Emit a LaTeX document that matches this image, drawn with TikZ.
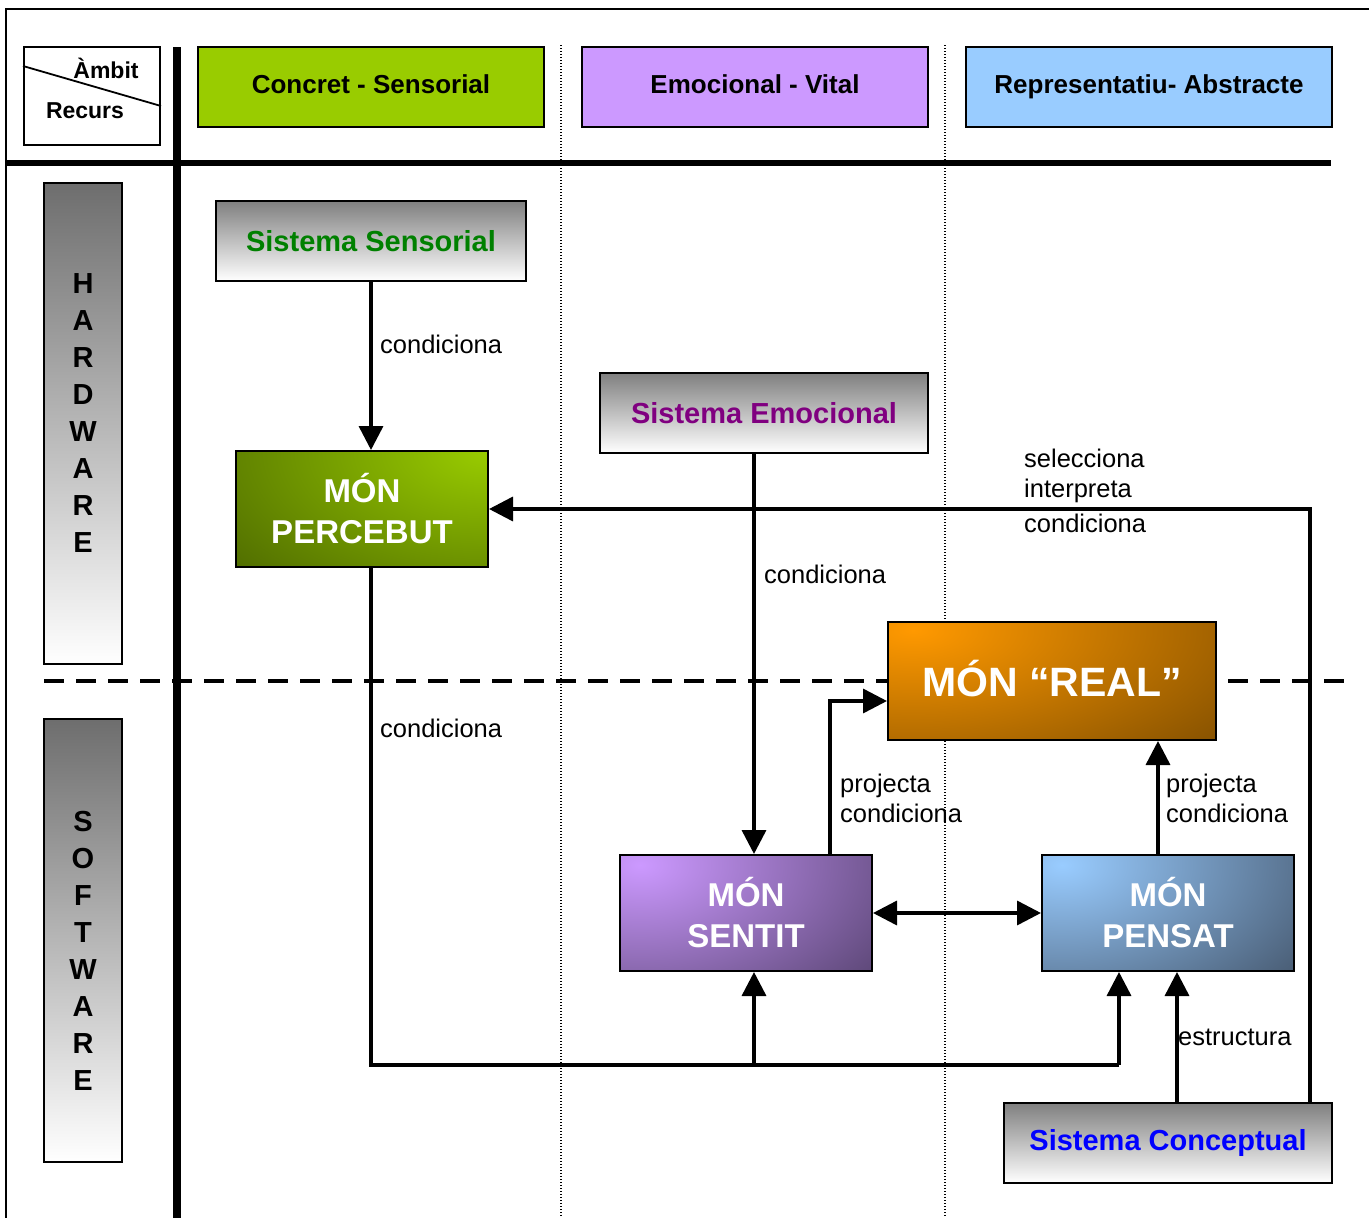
\documentclass[tikz,border=0pt]{standalone}
\usepackage{fontspec}
\setmainfont{Liberation Sans}
\usetikzlibrary{arrows.meta,calc}

\definecolor{hdrgreen}{HTML}{99CC00}
\definecolor{hdrviolet}{HTML}{CC99FF}
\definecolor{hdrblue}{HTML}{99CCFF}
\definecolor{percdark}{HTML}{4A6500}
\definecolor{percbright}{HTML}{99CC00}
\definecolor{realbright}{HTML}{FF9900}
\definecolor{realdark}{HTML}{744700}
\definecolor{sentlight}{HTML}{CC99FF}
\definecolor{sentdark}{HTML}{5F497A}
\definecolor{penslight}{HTML}{99CCFF}
\definecolor{pensdark}{HTML}{4A5E76}
\definecolor{sensgreen}{HTML}{008000}
\definecolor{emopurple}{HTML}{800080}
\definecolor{concblue}{HTML}{0000FF}

\tikzset{
  outerline/.style={line width=2pt},
  hdrbox/.style={draw, line width=2pt, minimum height=80pt, inner sep=0pt,
    text height=19pt, text depth=6pt,
    font=\bfseries\fontsize{26}{30}\selectfont},
  sysbox/.style={draw, line width=2pt, minimum height=80pt, inner sep=0pt,
    top color=black!50, bottom color=white,
    font=\bfseries\fontsize{29}{34}\selectfont},
  sidebox/.style={draw, line width=2pt, minimum width=78pt, inner sep=0pt,
    top color=black!57, bottom color=white},
  sideletters/.style={font=\bfseries\fontsize{29}{37}\selectfont,
    align=center, inner sep=0pt},
  monbox/.style={draw, line width=2pt, minimum width=252pt, minimum height=116pt,
    inner sep=0pt, text=white, align=center,
    font=\bfseries\fontsize{33}{41}\selectfont},
  % light spot #1 fading into #2, centred at #3 with radii #4, #5
  glow/.style n args={5}{path picture={
    \fill[#2] (path picture bounding box.south west) rectangle
              (path picture bounding box.north east);
    \shade[inner color=#1, outer color=#2] (#3) ellipse [x radius=#4, y radius=#5];
  }},
  conn/.style={line width=3.5pt},
  arr/.style={conn, -{Triangle[length=24pt,width=24pt]}},
  dblarr/.style={conn, {Triangle[length=24pt,width=24pt]}-{Triangle[length=24pt,width=24pt]}},
  lbl/.style={inner sep=0pt, anchor=base west, font=\fontsize{25.5}{30}\selectfont},
  guide/.style={line width=1.3pt, dash pattern=on 1.3pt off 1.7pt},
}

\begin{document}
\begin{tikzpicture}[x=1pt,y=-1pt]
\useasboundingbox (0,0) rectangle (1369,1218);

% outer frame (top and left)
\draw[outerline] (5,9) -- (1369,9);
\draw[outerline] (6,9) -- (6,1218);

% column guides
\draw[guide] (561,45) -- (561,1218);
\draw[guide] (945,45) -- (945,1218);

% separators
\draw[line width=8pt] (177,47) -- (177,1218);
\draw[line width=6pt] (6,163) -- (1331,163);
\draw[line width=4pt, dash pattern=on 20pt off 12pt] (44,681) -- (1345,681);

% corner cell
\node[draw, line width=2pt, minimum width=136pt, minimum height=98pt, inner sep=0pt] (amb) at (92,96) {};
\draw[line width=1.8pt] ([yshift=-20pt]amb.north west) -- ([yshift=40pt]amb.south east);
\node[inner sep=0pt, font=\bfseries\fontsize{23}{27}\selectfont] (ambt) at (106,68) {Àmbit};
\node[inner sep=0pt, font=\bfseries\fontsize{23}{27}\selectfont] (rect) at (85,111) {Recurs};

% column headers
\node[hdrbox, fill=hdrgreen, minimum width=346pt] (h1) at (371,87) {Concret - Sensorial};
\node[hdrbox, fill=hdrviolet, minimum width=346pt] (h2) at (755,87) {Emocional - Vital};
\node[hdrbox, fill=hdrblue, minimum width=366pt] (h3) at (1149,87) {Representatiu- Abstracte};

% row headers
\node[sidebox, minimum height=481pt] (hw) at (83,423.5) {};
\node[sideletters] (hwt) at (83,413.5) {H\\A\\R\\D\\W\\A\\R\\E};
\node[sidebox, minimum height=443pt] (sw) at (83,940.5) {};
\node[sideletters] (swt) at (83,950.5) {S\\O\\F\\T\\W\\A\\R\\E};

% systems
\node[sysbox, minimum width=310pt, text=sensgreen] (sens) at (371,241) {Sistema Sensorial};
\node[sysbox, minimum width=328pt, text=emopurple] (emo) at (764,413) {Sistema Emocional};
\node[sysbox, minimum width=328pt, text=concblue] (conc) at (1168,1143) {Sistema Conceptual};

% worlds
\node[monbox, glow={percbright}{percdark}{path picture bounding box.north east}{360pt}{200pt}]
  (perc) at (362,509) {MÓN\\PERCEBUT};
\node[monbox, minimum width=328pt, minimum height=118pt,
  text height=30pt, text depth=0pt,
  font=\bfseries\fontsize{41}{48}\selectfont,
  glow={realbright}{realdark}{$(path picture bounding box.north west)+(25pt,-8pt)$}{460pt}{200pt}]
  (real) at (1052,681) {MÓN “REAL”};
\node[monbox, glow={sentlight}{sentdark}{$(path picture bounding box.north west)+(20pt,-10pt)$}{290pt}{175pt}]
  (sent) at (746,913) {MÓN\\SENTIT};
\node[monbox, glow={penslight}{pensdark}{$(path picture bounding box.north west)+(20pt,-10pt)$}{290pt}{175pt}]
  (pens) at (1168,913) {MÓN\\PENSAT};

% junction points
\coordinate (pl) at (371,1065);
\coordinate (pm) at (754,1065);
\coordinate (pr) at (1119,1065);
\coordinate (sj) at (830,701);
\coordinate (pj) at (1158,800);
\coordinate (cj) at (1177,1000);
\coordinate (rj) at (1310,509);

% connectors
\draw[arr] (sens.south -| pl) -- (perc.north -| pl);
\draw[conn] (perc.south -| pl) -- (pl) -- (pr);
\draw[arr] (pr) -- (pr |- pens.south);
\draw[arr] (pm) -- (pm |- sent.south);
\draw[arr] (emo.south -| pm) -- (sent.north -| pm);
\draw[arr] (sent.north -| sj) -- (sj) -- (sj -| real.west);
\draw[arr] (pens.north -| pj) -- (real.south -| pj);
\draw[dblarr] (sent.east) -- (pens.west);
\draw[arr] (conc.north -| cj) -- (pens.south -| cj);
\draw[arr] (conc.north -| rj) -- (rj) -- (perc.east);

% connector labels
\node[lbl] (l1) at (380,353) {condiciona};
\node[lbl] (l2) at (380,737) {condiciona};
\node[lbl] (l3) at (764,583) {condiciona};
\node[lbl] (l4) at (1024,467) {selecciona};
\node[lbl] (l5) at (1024,497) {interpreta};
\node[lbl] (l6) at (1024,532) {condiciona};
\node[lbl] (l7) at (840,792) {projecta};
\node[lbl] (l8) at (840,822) {condiciona};
\node[lbl] (l9) at (1166,792) {projecta};
\node[lbl] (l10) at (1166,822) {condiciona};
\node[lbl] (l11) at (1178,1045) {estructura};
\end{tikzpicture}
\end{document}
